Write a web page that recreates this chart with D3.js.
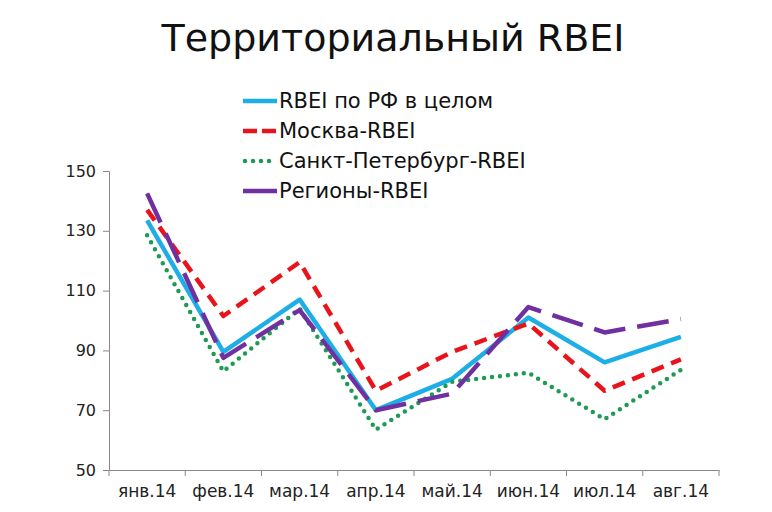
<!DOCTYPE html>
<html>
<head>
<meta charset="utf-8">
<script src="https://cdn.jsdelivr.net/npm/d3@7"></script>
<style>
  body { margin: 0; background: #fff; }
  text { font-family: "DejaVu Sans", Verdana, sans-serif; }
</style>
</head>
<body>
<div id="chart"></div>
<script>
// Data
const months = ['янв.14', 'фев.14', 'мар.14', 'апр.14', 'май.14', 'июн.14', 'июл.14', 'авг.14'];
const rbeiRF = [133.5, 89.5, 107, 70, 80.5, 101, 86, 94.5];
const moscow = [137, 101.5, 119.5, 76.5, 89.5, 99, 76.5, 87];
const spb = [128.5, 83, 104, 63.5, 79.5, 82.5, 67, 83.5];
const regions = [142.5, 87.5, 103.5, 70, 75.5, 104.5, 96, 100.5];
const yTicks = [50, 70, 90, 110, 130, 150];

const series = [
  { name: 'RBEI по РФ в целом', values: rbeiRF, color: '#1eaee6', dash: null, legendDash: null, cap: 'butt' },
  { name: 'Москва-RBEI', values: moscow, color: '#e8141b', dash: '13,8', legendDash: '14,5', cap: 'butt' },
  { name: 'Санкт-Петербург-RBEI', values: spb, color: '#1f9a55', dash: '0,8', legendDash: '0,8', cap: 'round' },
  { name: 'Регионы-RBEI', values: regions, color: '#7030a0', dash: '32,12', legendDash: null, cap: 'butt' }
];

const WIDTH = 772;
const HEIGHT = 512;
const MARGIN = { left: 109, right: 53, top: 171, bottom: 42 };

const svg = d3.select('#chart')
  .append('svg')
  .attr('width', WIDTH)
  .attr('height', HEIGHT);

const x = d3.scaleBand()
  .domain(months)
  .range([MARGIN.left, WIDTH - MARGIN.right])
  .padding(0);

const y = d3.scaleLinear()
  .domain([50, 150])
  .range([HEIGHT - MARGIN.bottom, MARGIN.top]);

// title
svg.append('text')
  .attr('x', 393)
  .attr('y', 51)
  .attr('text-anchor', 'middle')
  .style('font-size', '38px')
  .attr('fill', '#111')
  .text('Территориальный RBEI');

// y axis
const yAxis = svg.append('g')
  .attr('transform', `translate(${MARGIN.left},0)`)
  .call(d3.axisLeft(y).tickValues(yTicks).tickSize(6).tickPadding(7));
yAxis.select('.domain').attr('stroke', '#888');
yAxis.selectAll('.tick line').attr('stroke', '#888');
yAxis.selectAll('.tick text')
  .style('font-size', '16px')
  .style('font-family', '"DejaVu Sans", Verdana, sans-serif')
  .attr('fill', '#222');

// x axis
const xAxis = svg.append('g')
  .attr('transform', `translate(0,${y(50)})`)
  .call(d3.axisBottom(x).tickSize(0).tickPadding(15));
xAxis.select('.domain').attr('stroke', '#888');
xAxis.selectAll('.tick text')
  .style('font-size', '17px')
  .style('font-family', '"DejaVu Sans", Verdana, sans-serif')
  .attr('fill', '#222');

// category boundary ticks
const bounds = months.map(m => x(m)).concat([x(months[months.length - 1]) + x.bandwidth()]);
xAxis.selectAll('.bound')
  .data(bounds)
  .join('line')
  .attr('class', 'bound')
  .attr('x1', d => d)
  .attr('x2', d => d)
  .attr('y1', 0)
  .attr('y2', 6)
  .attr('stroke', '#888');

// lines
const line = d3.line()
  .x((d, i) => x(months[i]) + x.bandwidth() / 2)
  .y(d => y(d));

svg.append('g')
  .selectAll('path')
  .data(series)
  .join('path')
  .attr('d', d => line(d.values))
  .attr('fill', 'none')
  .attr('stroke', d => d.color)
  .attr('stroke-width', 4.5)
  .attr('stroke-dasharray', d => d.dash)
  .attr('stroke-linecap', d => d.cap)
  .attr('stroke-linejoin', 'round');

// legend
const legend = svg.append('g')
  .selectAll('g')
  .data(series)
  .join('g')
  .attr('transform', (d, i) => `translate(243,${101 + i * 30})`);

legend.append('line')
  .attr('x1', d => d.cap === 'round' ? 2 : 0)
  .attr('x2', 34)
  .attr('stroke', d => d.color)
  .attr('stroke-width', 4.5)
  .attr('stroke-dasharray', d => d.legendDash)
  .attr('stroke-linecap', d => d.cap);

legend.append('text')
  .attr('x', 36)
  .attr('y', 0)
  .attr('dy', '0.35em')
  .style('font-size', '21px')
  .attr('fill', '#111')
  .text(d => d.name);
</script>
</body>
</html>
